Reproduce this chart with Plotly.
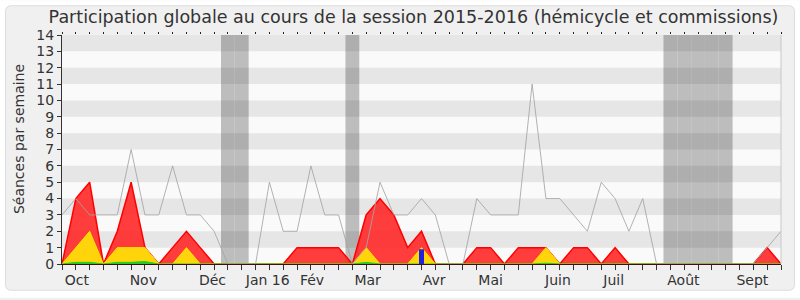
import plotly.graph_objects as go

# ---- data (weeks of the 2015-2016 session, index 0..52) ----
weeks = list(range(53))
seances_totales = [3, 4, 3, 3, 3, 7, 3, 3, 6, 3, 3, 2, 0, 0, 0, 5, 2, 2, 6, 3,
                   3, 0, 1, 5, 3, 3, 4, 3, 0, 0, 4, 3, 3, 3, 11, 4, 4, 3, 2, 5,
                   4, 2, 4, 0, 0, 0, 0, 0, 0, 0, 0, 1, 2]
presences = [0, 4, 5, 0, 2, 5, 1, 0, 1, 2, 1, 0, 0, 0, 0, 0, 0, 1, 1, 1,
             1, 0, 3, 4, 3, 1, 2, 0, 0, 0, 1, 1, 0, 1, 1, 1, 0, 1, 1, 0,
             1, 0, 0, 0, 0, 0, 0, 0, 0, 0, 0, 1, 0]
participations = [0, 1, 2, 0, 1, 1, 1, 0, 0, 1, 0, 0, 0, 0, 0, 0, 0, 0, 0, 0,
                  0, 0, 1, 0, 0, 0, 1, 0, 0, 0, 0, 0, 0, 0, 0, 1, 0, 0, 0, 0,
                  0, 0, 0, 0, 0, 0, 0, 0, 0, 0, 0, 0, 0]
mots = [0, 0.1, 0.1, 0, 0.1, 0.1, 0.15, 0, 0, 0, 0, 0, 0, 0, 0, 0, 0, 0, 0, 0,
        0, 0, 0.1, 0, 0, 0, 0, 0, 0, 0, 0, 0, 0, 0, 0, 0.05, 0, 0, 0, 0,
        0, 0, 0, 0, 0, 0, 0, 0, 0, 0, 0, 0, 0]
questions = [0] * 26 + [0.9] + [0] * 26
vacances = [12, 13, 21, 44, 45, 46, 47, 48]
mois_labels = ["Oct", "Nov", "Déc", "Jan 16", "Fév", "Mar", "Avr", "Mai",
               "Juin", "Juil", "Août", "Sept"]
mois_pos = [1.08, 5.88, 10.88, 14.88, 18.08, 22.1, 26.92, 31.0, 35.87, 39.9,
            44.94, 49.93]
y_ticks = list(range(15))

FONT = "DejaVu Sans"
L, R, T, B = 62, 781, 35, 266


def px2paper(px, py):
    return (px - L) / (R - L), (B - py) / (B - T)


fig = go.Figure()

fig.add_trace(go.Scatter(x=weeks, y=presences, mode="lines", fill="tozeroy",
                         line=dict(color="#ff0000", width=1.5),
                         fillcolor="rgba(255,40,40,0.9)", hoverinfo="skip"))
fig.add_trace(go.Scatter(x=weeks, y=participations, mode="lines", fill="tozeroy",
                         line=dict(color="#ffe600", width=1),
                         fillcolor="#ffd40a", hoverinfo="skip"))
fig.add_trace(go.Scatter(x=weeks, y=mots, mode="lines", fill="tozeroy",
                         line=dict(color="#22cc22", width=1),
                         fillcolor="#22cc22", hoverinfo="skip"))
# questions as thick vertical sticks (drawn above the areas)
qx, qy = [], []
for w, v in zip(weeks, questions):
    if v > 0:
        qx += [w, w, None]
        qy += [0, v, None]
fig.add_trace(go.Scatter(x=qx, y=qy, mode="lines",
                         line=dict(color="#2222dd", width=5),
                         hoverinfo="skip"))
fig.add_trace(go.Scatter(x=weeks, y=seances_totales, mode="lines",
                         line=dict(color="rgba(165,165,165,0.85)", width=1),
                         hoverinfo="skip"))

shapes = []
# white corners outside the rounded box (ring with a rounded hole)
ox0, oy0 = px2paper(0, 0)
ox1, oy1 = px2paper(800, 300)
x0, y0 = px2paper(5.5, 5.5)
x1, y1 = px2paper(794.5, 292.5)
rx = 6 / (R - L)
ry = 6 / (B - T)
outer = f"M {ox0} {oy0} L {ox1} {oy0} L {ox1} {oy1} L {ox0} {oy1} Z "
inner = (f"M {x0+rx} {y0} Q {x0} {y0} {x0} {y0-ry} L {x0} {y1+ry} "
         f"Q {x0} {y1} {x0+rx} {y1} L {x1-rx} {y1} Q {x1} {y1} {x1} {y1+ry} "
         f"L {x1} {y0-ry} Q {x1} {y0} {x1-rx} {y0} Z")
shapes.append(dict(type="path", path=outer + inner, xref="paper", yref="paper",
                   fillcolor="white", line=dict(width=0), layer="below"))
shapes.append(dict(type="path", path=inner, xref="paper", yref="paper",
                   fillcolor="rgba(0,0,0,0)", line=dict(color="#dcdcdc", width=1),
                   layer="below"))
# vacation bands
for w in vacances:
    shapes.append(dict(type="rect", xref="x", yref="y domain", x0=w - 0.5,
                       x1=w + 0.5, y0=0, y1=1, fillcolor="#bdbdbd",
                       line=dict(width=0), layer="below"))
# horizontal stripes
for k in range(1, 14, 2):
    shapes.append(dict(type="rect", xref="x domain", yref="y", x0=0, x1=1,
                       y0=k, y1=k + 1, fillcolor="rgba(0,0,0,0.08)",
                       line=dict(width=0), layer="below"))
# right border line
shapes.append(dict(type="line", xref="x domain", yref="y domain", x0=1, x1=1,
                   y0=0, y1=1, line=dict(color="#c8c8c8", width=1)))

fig.update_layout(
    width=800, height=300,
    margin=dict(l=L, r=800 - R, t=T, b=300 - B),
    paper_bgcolor="#f0f0f0", plot_bgcolor="#fafafa",
    showlegend=False,
    font=dict(family=FONT, size=14, color="#333"),
    title=dict(text="Participation globale au cours de la session 2015-2016 (hémicycle et commissions)",
               x=413.5 / 800, xanchor="center", y=1 - 17 / 300, yanchor="middle",
               xref="container", yref="container",
               font=dict(family=FONT, size=17.5, color="#333")),
    shapes=shapes,
    xaxis=dict(range=[0, 52], tickmode="linear", tick0=0, dtick=1,
               ticks="outside", ticklen=5, tickcolor="#333", tickwidth=1,
               showticklabels=False, showgrid=False, zeroline=False,
               showline=True, linecolor="#3a1010", linewidth=1),
    xaxis2=dict(range=[0, 52], overlaying="x", side="top", anchor="y",
                tickmode="linear", tick0=0, dtick=1, ticks="outside",
                ticklen=2, tickcolor="#222", showticklabels=False,
                showgrid=False, zeroline=False, showline=False),
    xaxis3=dict(range=[0, 52], overlaying="x", side="bottom", anchor="y",
                tickmode="array", tickvals=mois_pos, ticktext=mois_labels,
                ticks="outside", ticklen=3, tickcolor="rgba(0,0,0,0)",
                showgrid=False, zeroline=False, showline=False,
                tickfont=dict(family=FONT, size=14, color="#333")),
    yaxis=dict(range=[0, 14], tickmode="array", tickvals=y_ticks,
               ticks="outside", ticklen=4, tickcolor="#333",
               showgrid=False, zeroline=False, showline=True,
               linecolor="#333", linewidth=1,
               tickfont=dict(family=FONT, size=14, color="#333")),
    annotations=[dict(text="Séances par semaine", xref="paper", yref="paper",
                      x=px2paper(19, 0)[0], y=px2paper(0, 140)[1],
                      textangle=-90, showarrow=False,
                      font=dict(family=FONT, size=14, color="#333"),
                      xanchor="center", yanchor="middle")],
)

# invisible traces to activate the overlay axes
fig.add_trace(go.Scatter(x=[0], y=[0], xaxis="x2", mode="markers",
                         marker=dict(opacity=0), hoverinfo="skip"))
fig.add_trace(go.Scatter(x=[0], y=[0], xaxis="x3", mode="markers",
                         marker=dict(opacity=0), hoverinfo="skip"))

fig.write_html("out.html")
